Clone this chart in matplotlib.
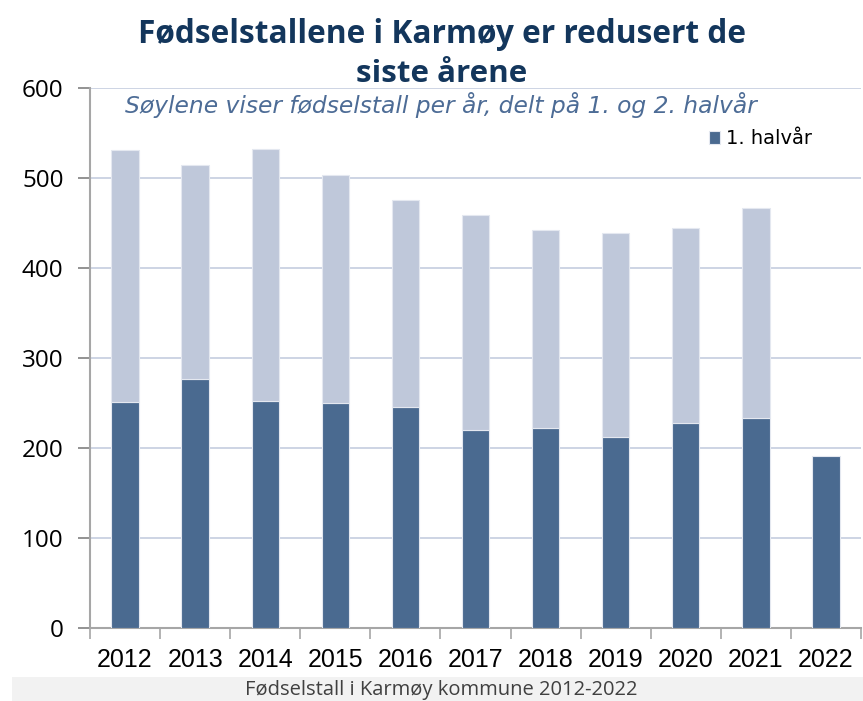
import numpy as np
import matplotlib
matplotlib.use("Agg")
import matplotlib.pyplot as plt
from matplotlib.patches import Rectangle

# ---- data ----
years = ["2012", "2013", "2014", "2015", "2016", "2017", "2018", "2019", "2020", "2021", "2022"]
first_half = [251, 277, 252, 250, 246, 220, 222, 212, 228, 233, 191]
total = [531, 515, 532, 503, 476, 459, 442, 439, 445, 467, np.nan]
yticks = [0, 100, 200, 300, 400, 500, 600]

title_lines = ["Fødselstallene i Karmøy er redusert de", "siste årene"]
subtitle = "Søylene viser fødselstall per år, delt på 1. og 2. halvår"
caption = "Fødselstall i Karmøy kommune 2012-2022"
legend_label = "1. halvår"

second_half = [t - f for t, f in zip(total, first_half)]

DARK = "#4A6A90"
LIGHT = "#BFC8DA"
EDGE = "#E4E8F0"
GRID = "#C9D1E2"
AXC = "#A6A6A6"

W, H = 863, 701
fig = plt.figure(figsize=(W / 100, H / 100), dpi=100)
fig.patch.set_facecolor("white")

x0, x1 = 90, 861
y0, y1 = 628.3, 88
ax = fig.add_axes([x0 / W, (H - y0) / H, (x1 - x0) / W, (y0 - y1) / H])

x = np.arange(len(years))
b1 = ax.bar(x, first_half, width=0.39, color=DARK, edgecolor=EDGE, linewidth=0.8, zorder=3)
b2 = ax.bar(x, second_half, bottom=first_half, width=0.39, color=LIGHT, edgecolor=EDGE,
            linewidth=0.8, zorder=3)

ax.set_xlim(-0.5, len(years) - 0.5)
ax.set_ylim(0, 600)
ax.set_yticks(yticks)
ax.set_yticklabels([str(v) for v in yticks], fontsize=17.5, family=["Open Sans", "DejaVu Sans"])
ax.set_xticks(x)
ax.set_xticklabels(years, fontsize=18, family=["Liberation Sans Narrow", "Liberation Sans", "DejaVu Sans"])
ax.set_xticks(np.arange(-0.5, len(years), 1.0), minor=True)
ax.tick_params(axis="x", which="major", length=0, pad=14)
ax.tick_params(axis="x", which="minor", length=8, color=AXC, width=1.2, direction="out")
ax.tick_params(axis="y", length=9, color="#808080", width=1.2, direction="out", pad=10)

ax.yaxis.grid(True, color=GRID, linewidth=1.3, zorder=0)
ax.set_axisbelow(True)
for s in ["top", "right"]:
    ax.spines[s].set_visible(False)
for s in ["left", "bottom"]:
    ax.spines[s].set_color(AXC)
    ax.spines[s].set_linewidth(1.5)

# legend (only first half shown)
ax.legend([b1], [legend_label], loc="center left", bbox_to_anchor=(699 / W, 1 - 139 / H),
          bbox_transform=fig.transFigure, frameon=False, handlelength=0.6, handleheight=0.6,
          handletextpad=0.3, borderpad=0, prop={"family": ["DejaVu Sans"], "size": 14})

# caption band
fig.patches.append(Rectangle((12 / W, 0), 1 - 12 / W, (H - 677) / H, transform=fig.transFigure,
                             facecolor="#F2F2F2", edgecolor="none", zorder=0))

renderer = fig.canvas.get_renderer()


def fit_text(xc, yb, s, target_w, start_size, ha="center", **kw):
    t = fig.text(xc / W, 1 - yb / H, s, ha=ha, va="baseline", fontsize=start_size, **kw)
    w = t.get_window_extent(renderer).width
    t.set_fontsize(start_size * target_w / w)
    return t


fit_text(442, 43, title_lines[0], 605, 22, fontweight="bold", color="#13365C",
         family=["Open Sans", "DejaVu Sans"])
fit_text(442, 82, title_lines[1], 170, 22, fontweight="bold", color="#13365C",
         family=["Open Sans", "DejaVu Sans"])
fit_text(125, 113, subtitle, 635, 14, ha="left", style="italic", color="#4D6C96",
         family=["DejaVu Sans"])
fit_text(441, 695, caption, 395, 14, color="#404040", family=["Open Sans", "DejaVu Sans"])

fig.savefig("out.png", dpi=100)
